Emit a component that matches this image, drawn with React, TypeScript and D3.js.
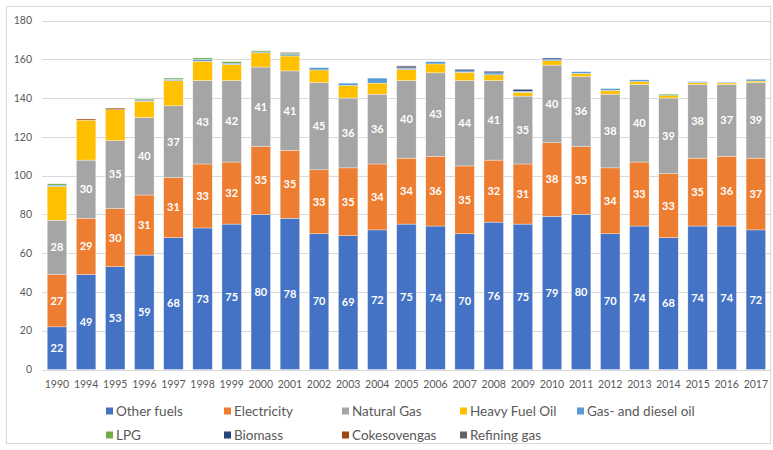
import React from 'react';
import * as d3 from 'd3';

const years = ['1990','1994','1995','1996','1997','1998','1999','2000','2001','2002','2003','2004','2005','2006','2007','2008','2009','2010','2011','2012','2013','2014','2015','2016','2017'];
const otherFuels = [22,49,53,59,68,73,75,80,78,70,69,72,75,74,70,76,75,79,80,70,74,68,74,74,72];
const electricity = [27,29,30,31,31,33,32,35,35,33,35,34,34,36,35,32,31,38,35,34,33,33,35,36,37];
const naturalGas = [28,30,35,40,37,43,42,41,41,45,36,36,40,43,44,41,35,40,36,38,40,39,38,37,39];
const heavyFuelOil = [17.4,20.6,16,8.4,13,10,8.3,7.3,7.7,6.5,6.5,5.7,5.7,4.6,4.3,3,2,2.3,1.7,2,1.5,1.2,1,0.8,0.8];
const gasDieselOil = [0.7,0,0,0.6,0.7,1,0.7,0.5,0.6,1.2,1.2,2.6,0.6,1.2,0.7,1,0.5,0.5,0.9,0.9,0.9,0,0.5,0.4,0.9];
const lpg = [0.7,0,0,0.5,0.6,0.7,0.8,0.6,0.6,0,0,0,0,0,0,0,0,0,0,0,0,0.8,0,0,0];
const biomass = [0,0,0,0,0,0,0,0,0,0,0,0,0.7,0,0.8,0.8,1,0.8,0,0,0,0,0,0,0];
const cokesovengas = [0,0.6,0.8,0,0,0,0,0,0,0,0,0,0,0,0,0,0,0,0,0,0,0,0,0,0];
const refiningGas = [0,0,0,0,0,0,0,0,0.6,0,0,0,0.6,0,0,0,0,0,0,0,0,0,0,0,0];
const yTicks = [0,20,40,60,80,100,120,140,160,180];

const seriesNames = ['Other fuels','Electricity','Natural Gas','Heavy Fuel Oil','Gas- and diesel oil','LPG','Biomass','Cokesovengas','Refining gas'];
const seriesValues = [otherFuels, electricity, naturalGas, heavyFuelOil, gasDieselOil, lpg, biomass, cokesovengas, refiningGas];
const colors = ['#4472C4','#ED7D31','#A5A5A5','#FFC000','#5B9BD5','#70AD47','#264478','#9E480E','#636363'];
const labeled = [true, true, true, false, false, false, false, false, false];

const W = 773, H = 450;
const FONT = 'Lato, "Open Sans", sans-serif';

export default function App() {
  const x = d3.scaleBand<string>().domain(years).range([42.4, 770.4]).paddingInner(0.33).paddingOuter(0.165);
  const y = d3.scaleLinear().domain([0, 180]).range([369.5, 20.5]);

  const rows = years.map((yr, i) => {
    const r: any = { year: yr };
    seriesNames.forEach((n, k) => { r[n] = seriesValues[k][i]; });
    return r;
  });
  const stacked = d3.stack<any>().keys(seriesNames)(rows);

  const legendRows = [
    { y: 411, items: [0,1,2,3,4] },
    { y: 435, items: [5,6,7,8] },
  ];
  const legendX = [106, 224, 342, 460, 577];

  return (
    <svg width={W} height={H} style={{ position: 'absolute', left: 0, top: 0, background: '#fff' }} fontFamily={FONT}>
      <rect x={6.5} y={6.5} width={764} height={437} fill="#fff" stroke="#d9d9d9" strokeWidth={1} />
      {yTicks.map(t => (
        <g key={t}>
          <line x1={42} x2={770} y1={Math.round(y(t)) + 0.5} y2={Math.round(y(t)) + 0.5} stroke="#d9d9d9" strokeWidth={1} />
          <text x={32} y={y(t)} dy="0.35em" textAnchor="end" fontSize={10.5} fill="#595959">{t}</text>
        </g>
      ))}
      {stacked.map((s, k) => (
        <g key={seriesNames[k]} fill={colors[k]}>
          {s.map((d, i) => {
            const h = y(d[0]) - y(d[1]);
            if (h <= 0) return null;
            return <rect key={i} x={x(years[i])} width={x.bandwidth()} y={y(d[1])} height={h} stroke="#fff" strokeWidth={0.5} strokeOpacity={0.7} />;
          })}
        </g>
      ))}
      {stacked.map((s, k) => labeled[k] ? (
        <g key={'l' + k}>
          {s.map((d, i) => (
            <text key={i} x={(x(years[i]) as number) + x.bandwidth() / 2} y={(y(d[0]) + y(d[1])) / 2} dy="0.35em" textAnchor="middle" fontSize={11} fontWeight="bold" fill="#fff">
              {Math.round(d[1] - d[0])}
            </text>
          ))}
        </g>
      ) : null)}
      {years.map(yr => (
        <text key={yr} x={(x(yr) as number) + x.bandwidth() / 2} y={388} textAnchor="middle" fontSize={10.5} fill="#595959">{yr}</text>
      ))}
      {legendRows.map((row, ri) => (
        <g key={ri}>
          {row.items.map((k, j) => (
            <g key={k}>
              <rect x={legendX[j]} y={row.y - 3.5} width={7} height={7} fill={colors[k]} />
              <text x={legendX[j] + 10} y={row.y} dy="0.35em" fontSize={13.5} fill="#595959">{seriesNames[k]}</text>
            </g>
          ))}
        </g>
      ))}
    </svg>
  );
}
